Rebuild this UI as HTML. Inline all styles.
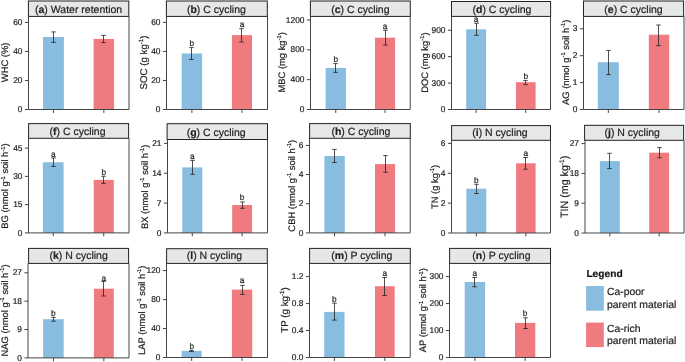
<!DOCTYPE html>
<html><head><meta charset="utf-8"><style>
html,body{margin:0;padding:0;background:#fff;}
svg{display:block;will-change:transform;}
text{font-family:"Liberation Sans", sans-serif;stroke:#222;stroke-width:0.2px;text-rendering:geometricPrecision;}
</style></head><body>
<svg width="685" height="362" viewBox="0 0 685 362">
<rect width="685" height="362" fill="#fff"/>
<rect x="43.00" y="37.00" width="20.90" height="72.50" fill="#88bde0"/>
<rect x="93.60" y="38.90" width="20.50" height="70.60" fill="#f07b7f"/>
<rect x="28.40" y="1.00" width="100.40" height="15.40" fill="#e5e8e6" stroke="#222" stroke-width="1"/>
<text x="78.60" y="12.60" font-size="10.5" text-anchor="middle" fill="#222">(<tspan font-weight="bold">a</tspan>) Water retention</text>
<path d="M28.50 16.40V109.50H129.00V16.40" fill="none" stroke="#444" stroke-width="1"/>
<path d="M24.90 22.40H28.50" stroke="#444" stroke-width="1"/>
<text x="22.50" y="25.00" font-size="8.4" text-anchor="end" fill="#222">60</text>
<path d="M24.90 51.43H28.50" stroke="#444" stroke-width="1"/>
<text x="22.50" y="54.03" font-size="8.4" text-anchor="end" fill="#222">40</text>
<path d="M24.90 80.47H28.50" stroke="#444" stroke-width="1"/>
<text x="22.50" y="83.07" font-size="8.4" text-anchor="end" fill="#222">20</text>
<path d="M24.90 109.50H28.50" stroke="#444" stroke-width="1"/>
<text x="22.50" y="112.10" font-size="8.4" text-anchor="end" fill="#222">0</text>
<path d="M53.45 109.50V112.90" stroke="#444" stroke-width="1"/>
<path d="M103.85 109.50V112.90" stroke="#444" stroke-width="1"/>
<path d="M53.50 31.90V42.30M51.20 31.90H55.80M51.20 42.30H55.80" stroke="#222" stroke-width="0.8" fill="none"/>
<path d="M103.50 35.40V42.60M101.20 35.40H105.80M101.20 42.60H105.80" stroke="#222" stroke-width="0.8" fill="none"/>
<text transform="translate(8.00,62.35) rotate(-90)" x="0" y="0" font-size="9.4" text-anchor="middle" fill="#222"><tspan>WHC (%)</tspan></text>
<rect x="181.70" y="53.50" width="20.40" height="56.00" fill="#88bde0"/>
<rect x="231.90" y="35.10" width="20.10" height="74.40" fill="#f07b7f"/>
<rect x="166.40" y="1.00" width="100.90" height="15.40" fill="#e5e8e6" stroke="#222" stroke-width="1"/>
<text x="216.35" y="12.60" font-size="10.5" text-anchor="middle" fill="#222">(<tspan font-weight="bold">b</tspan>) C cycling</text>
<path d="M166.50 16.40V109.50H267.50V16.40" fill="none" stroke="#444" stroke-width="1"/>
<path d="M162.90 22.40H166.50" stroke="#444" stroke-width="1"/>
<text x="160.50" y="25.00" font-size="8.4" text-anchor="end" fill="#222">60</text>
<path d="M162.90 51.43H166.50" stroke="#444" stroke-width="1"/>
<text x="160.50" y="54.03" font-size="8.4" text-anchor="end" fill="#222">40</text>
<path d="M162.90 80.47H166.50" stroke="#444" stroke-width="1"/>
<text x="160.50" y="83.07" font-size="8.4" text-anchor="end" fill="#222">20</text>
<path d="M162.90 109.50H166.50" stroke="#444" stroke-width="1"/>
<text x="160.50" y="112.10" font-size="8.4" text-anchor="end" fill="#222">0</text>
<path d="M191.90 109.50V112.90" stroke="#444" stroke-width="1"/>
<path d="M241.95 109.50V112.90" stroke="#444" stroke-width="1"/>
<path d="M191.50 47.60V59.50M189.20 47.60H193.80M189.20 59.50H193.80" stroke="#222" stroke-width="0.8" fill="none"/>
<path d="M241.50 28.70V42.00M239.20 28.70H243.80M239.20 42.00H243.80" stroke="#222" stroke-width="0.8" fill="none"/>
<text x="191.90" y="45.60" font-size="8.3" text-anchor="middle" fill="#222">b</text>
<text x="241.95" y="26.80" font-size="8.3" text-anchor="middle" fill="#222">a</text>
<text transform="translate(146.80,62.50) rotate(-90)" x="0" y="0" font-size="9.7" text-anchor="middle" fill="#222"><tspan>SOC (g kg</tspan><tspan font-size="6.01" dy="-3.8">-1</tspan><tspan dy="3.8">)</tspan></text>
<rect x="325.60" y="67.90" width="20.30" height="41.60" fill="#88bde0"/>
<rect x="375.00" y="37.70" width="20.10" height="71.80" fill="#f07b7f"/>
<rect x="310.40" y="1.00" width="99.90" height="15.40" fill="#e5e8e6" stroke="#222" stroke-width="1"/>
<text x="360.35" y="12.60" font-size="10.5" text-anchor="middle" fill="#222">(<tspan font-weight="bold">c</tspan>) C cycling</text>
<path d="M310.50 16.40V109.50H410.20V16.40" fill="none" stroke="#444" stroke-width="1"/>
<path d="M306.90 20.00H310.50" stroke="#444" stroke-width="1"/>
<text x="304.50" y="22.60" font-size="8.4" text-anchor="end" fill="#222">1200</text>
<path d="M306.90 49.83H310.50" stroke="#444" stroke-width="1"/>
<text x="304.50" y="52.43" font-size="8.4" text-anchor="end" fill="#222">800</text>
<path d="M306.90 79.67H310.50" stroke="#444" stroke-width="1"/>
<text x="304.50" y="82.27" font-size="8.4" text-anchor="end" fill="#222">400</text>
<path d="M306.90 109.50H310.50" stroke="#444" stroke-width="1"/>
<text x="304.50" y="112.10" font-size="8.4" text-anchor="end" fill="#222">0</text>
<path d="M335.75 109.50V112.90" stroke="#444" stroke-width="1"/>
<path d="M385.05 109.50V112.90" stroke="#444" stroke-width="1"/>
<path d="M335.50 63.60V72.40M333.20 63.60H337.80M333.20 72.40H337.80" stroke="#222" stroke-width="0.8" fill="none"/>
<path d="M385.50 30.30V45.10M383.20 30.30H387.80M383.20 45.10H387.80" stroke="#222" stroke-width="0.8" fill="none"/>
<text x="335.75" y="61.80" font-size="8.3" text-anchor="middle" fill="#222">b</text>
<text x="385.05" y="28.60" font-size="8.3" text-anchor="middle" fill="#222">a</text>
<text transform="translate(285.20,62.30) rotate(-90)" x="0" y="0" font-size="9.4" text-anchor="middle" fill="#222"><tspan>MBC (mg kg</tspan><tspan font-size="5.83" dy="-3.8">-1</tspan><tspan dy="3.8">)</tspan></text>
<rect x="466.20" y="29.30" width="19.90" height="80.20" fill="#88bde0"/>
<rect x="515.90" y="82.20" width="19.70" height="27.30" fill="#f07b7f"/>
<rect x="451.50" y="1.50" width="99.10" height="14.90" fill="#e5e8e6" stroke="#222" stroke-width="1"/>
<text x="501.95" y="12.60" font-size="10.5" text-anchor="middle" fill="#222">(<tspan font-weight="bold">d</tspan>) C cycling</text>
<path d="M451.50 16.40V109.50H550.50V16.40" fill="none" stroke="#444" stroke-width="1"/>
<path d="M447.90 30.20H451.50" stroke="#444" stroke-width="1"/>
<text x="445.50" y="32.80" font-size="8.4" text-anchor="end" fill="#222">900</text>
<path d="M447.90 56.63H451.50" stroke="#444" stroke-width="1"/>
<text x="445.50" y="59.23" font-size="8.4" text-anchor="end" fill="#222">600</text>
<path d="M447.90 83.07H451.50" stroke="#444" stroke-width="1"/>
<text x="445.50" y="85.67" font-size="8.4" text-anchor="end" fill="#222">300</text>
<path d="M447.90 109.50H451.50" stroke="#444" stroke-width="1"/>
<text x="445.50" y="112.10" font-size="8.4" text-anchor="end" fill="#222">0</text>
<path d="M476.15 109.50V112.90" stroke="#444" stroke-width="1"/>
<path d="M525.75 109.50V112.90" stroke="#444" stroke-width="1"/>
<path d="M476.50 23.30V35.30M474.20 23.30H478.80M474.20 35.30H478.80" stroke="#222" stroke-width="0.8" fill="none"/>
<path d="M525.50 80.60V84.60M523.20 80.60H527.80M523.20 84.60H527.80" stroke="#222" stroke-width="0.8" fill="none"/>
<text x="476.15" y="21.90" font-size="8.3" text-anchor="middle" fill="#222">a</text>
<text x="525.75" y="79.10" font-size="8.3" text-anchor="middle" fill="#222">b</text>
<text transform="translate(428.20,62.65) rotate(-90)" x="0" y="0" font-size="9.4" text-anchor="middle" fill="#222"><tspan>DOC (mg kg</tspan><tspan font-size="5.83" dy="-3.8">-1</tspan><tspan dy="3.8">)</tspan></text>
<rect x="597.80" y="62.20" width="21.00" height="47.30" fill="#88bde0"/>
<rect x="648.80" y="34.70" width="20.40" height="74.80" fill="#f07b7f"/>
<rect x="583.50" y="1.00" width="100.10" height="15.40" fill="#e5e8e6" stroke="#222" stroke-width="1"/>
<text x="633.55" y="12.60" font-size="10.5" text-anchor="middle" fill="#222">(<tspan font-weight="bold">e</tspan>) C cycling</text>
<path d="M583.50 16.40V109.50H684.00V16.40" fill="none" stroke="#444" stroke-width="1"/>
<path d="M579.90 28.80H583.50" stroke="#444" stroke-width="1"/>
<text x="577.50" y="31.40" font-size="8.4" text-anchor="end" fill="#222">3</text>
<path d="M579.90 55.70H583.50" stroke="#444" stroke-width="1"/>
<text x="577.50" y="58.30" font-size="8.4" text-anchor="end" fill="#222">2</text>
<path d="M579.90 82.60H583.50" stroke="#444" stroke-width="1"/>
<text x="577.50" y="85.20" font-size="8.4" text-anchor="end" fill="#222">1</text>
<path d="M579.90 109.50H583.50" stroke="#444" stroke-width="1"/>
<text x="577.50" y="112.10" font-size="8.4" text-anchor="end" fill="#222">0</text>
<path d="M608.30 109.50V112.90" stroke="#444" stroke-width="1"/>
<path d="M659.00 109.50V112.90" stroke="#444" stroke-width="1"/>
<path d="M608.50 50.40V74.60M606.20 50.40H610.80M606.20 74.60H610.80" stroke="#222" stroke-width="0.8" fill="none"/>
<path d="M658.50 25.00V45.70M656.20 25.00H660.80M656.20 45.70H660.80" stroke="#222" stroke-width="0.8" fill="none"/>
<text transform="translate(568.70,62.25) rotate(-90)" x="0" y="0" font-size="9.4" text-anchor="middle" fill="#222"><tspan>AG (nmol g</tspan><tspan font-size="5.83" dy="-3.8">-1</tspan><tspan dy="3.8"> soil h</tspan><tspan font-size="5.83" dy="-3.8">-1</tspan><tspan dy="3.8">)</tspan></text>
<rect x="42.90" y="162.30" width="20.70" height="70.60" fill="#88bde0"/>
<rect x="93.70" y="179.90" width="20.10" height="53.00" fill="#f07b7f"/>
<rect x="28.60" y="123.60" width="100.00" height="14.70" fill="#e5e8e6" stroke="#222" stroke-width="1"/>
<text x="77.50" y="135.05" font-size="10.5" text-anchor="middle" fill="#222">(<tspan font-weight="bold">f</tspan>) C cycling</text>
<path d="M28.50 138.30V232.90H129.00V138.30" fill="none" stroke="#444" stroke-width="1"/>
<path d="M24.90 148.10H28.50" stroke="#444" stroke-width="1"/>
<text x="22.50" y="150.70" font-size="8.4" text-anchor="end" fill="#222">45</text>
<path d="M24.90 176.37H28.50" stroke="#444" stroke-width="1"/>
<text x="22.50" y="178.97" font-size="8.4" text-anchor="end" fill="#222">30</text>
<path d="M24.90 204.63H28.50" stroke="#444" stroke-width="1"/>
<text x="22.50" y="207.23" font-size="8.4" text-anchor="end" fill="#222">15</text>
<path d="M24.90 232.90H28.50" stroke="#444" stroke-width="1"/>
<text x="22.50" y="235.50" font-size="8.4" text-anchor="end" fill="#222">0</text>
<path d="M53.25 232.90V236.30" stroke="#444" stroke-width="1"/>
<path d="M103.75 232.90V236.30" stroke="#444" stroke-width="1"/>
<path d="M53.50 158.00V166.40M51.20 158.00H55.80M51.20 166.40H55.80" stroke="#222" stroke-width="0.8" fill="none"/>
<path d="M103.50 176.30V183.40M101.20 176.30H105.80M101.20 183.40H105.80" stroke="#222" stroke-width="0.8" fill="none"/>
<text x="53.25" y="156.60" font-size="8.3" text-anchor="middle" fill="#222">a</text>
<text x="103.75" y="174.90" font-size="8.3" text-anchor="middle" fill="#222">b</text>
<text transform="translate(8.40,186.05) rotate(-90)" x="0" y="0" font-size="9.4" text-anchor="middle" fill="#222"><tspan>BG (nmol g</tspan><tspan font-size="5.83" dy="-3.8">-1</tspan><tspan dy="3.8"> soil h</tspan><tspan font-size="5.83" dy="-3.8">-1</tspan><tspan dy="3.8">)</tspan></text>
<rect x="182.30" y="167.40" width="20.00" height="65.50" fill="#88bde0"/>
<rect x="232.20" y="205.00" width="19.90" height="27.90" fill="#f07b7f"/>
<rect x="167.10" y="123.70" width="100.40" height="15.80" fill="#e5e8e6" stroke="#222" stroke-width="1"/>
<text x="216.10" y="136.20" font-size="10.5" text-anchor="middle" fill="#222">(<tspan font-weight="bold">g</tspan>) C cycling</text>
<path d="M167.50 139.50V232.90H267.50V139.50" fill="none" stroke="#444" stroke-width="1"/>
<path d="M163.90 143.40H167.50" stroke="#444" stroke-width="1"/>
<text x="161.50" y="146.00" font-size="8.4" text-anchor="end" fill="#222">21</text>
<path d="M163.90 173.23H167.50" stroke="#444" stroke-width="1"/>
<text x="161.50" y="175.83" font-size="8.4" text-anchor="end" fill="#222">14</text>
<path d="M163.90 203.07H167.50" stroke="#444" stroke-width="1"/>
<text x="161.50" y="205.67" font-size="8.4" text-anchor="end" fill="#222">7</text>
<path d="M163.90 232.90H167.50" stroke="#444" stroke-width="1"/>
<text x="161.50" y="235.50" font-size="8.4" text-anchor="end" fill="#222">0</text>
<path d="M192.30 232.90V236.30" stroke="#444" stroke-width="1"/>
<path d="M242.15 232.90V236.30" stroke="#444" stroke-width="1"/>
<path d="M192.50 160.40V174.30M190.20 160.40H194.80M190.20 174.30H194.80" stroke="#222" stroke-width="0.8" fill="none"/>
<path d="M242.50 202.00V208.30M240.20 202.00H244.80M240.20 208.30H244.80" stroke="#222" stroke-width="0.8" fill="none"/>
<text x="192.30" y="158.80" font-size="8.3" text-anchor="middle" fill="#222">a</text>
<text x="242.15" y="199.90" font-size="8.3" text-anchor="middle" fill="#222">b</text>
<text transform="translate(147.60,186.80) rotate(-90)" x="0" y="0" font-size="9.4" text-anchor="middle" fill="#222"><tspan>BX (nmol g</tspan><tspan font-size="5.83" dy="-3.8">-1</tspan><tspan dy="3.8"> soil h</tspan><tspan font-size="5.83" dy="-3.8">-1</tspan><tspan dy="3.8">)</tspan></text>
<rect x="324.40" y="156.00" width="20.40" height="76.90" fill="#88bde0"/>
<rect x="375.00" y="164.10" width="20.10" height="68.80" fill="#f07b7f"/>
<rect x="309.60" y="123.60" width="100.70" height="14.70" fill="#e5e8e6" stroke="#222" stroke-width="1"/>
<text x="360.85" y="135.40" font-size="10.5" text-anchor="middle" fill="#222">(<tspan font-weight="bold">h</tspan>) C cycling</text>
<path d="M309.50 138.30V232.90H410.20V138.30" fill="none" stroke="#444" stroke-width="1"/>
<path d="M305.90 145.40H309.50" stroke="#444" stroke-width="1"/>
<text x="303.50" y="148.00" font-size="8.4" text-anchor="end" fill="#222">6</text>
<path d="M305.90 174.57H309.50" stroke="#444" stroke-width="1"/>
<text x="303.50" y="177.17" font-size="8.4" text-anchor="end" fill="#222">4</text>
<path d="M305.90 203.73H309.50" stroke="#444" stroke-width="1"/>
<text x="303.50" y="206.33" font-size="8.4" text-anchor="end" fill="#222">2</text>
<path d="M305.90 232.90H309.50" stroke="#444" stroke-width="1"/>
<text x="303.50" y="235.50" font-size="8.4" text-anchor="end" fill="#222">0</text>
<path d="M334.60 232.90V236.30" stroke="#444" stroke-width="1"/>
<path d="M385.05 232.90V236.30" stroke="#444" stroke-width="1"/>
<path d="M334.50 149.40V162.50M332.20 149.40H336.80M332.20 162.50H336.80" stroke="#222" stroke-width="0.8" fill="none"/>
<path d="M385.50 155.60V172.30M383.20 155.60H387.80M383.20 172.30H387.80" stroke="#222" stroke-width="0.8" fill="none"/>
<text transform="translate(295.00,185.80) rotate(-90)" x="0" y="0" font-size="9.4" text-anchor="middle" fill="#222"><tspan>CBH (nmol g</tspan><tspan font-size="5.83" dy="-3.8">-1</tspan><tspan dy="3.8"> soil h</tspan><tspan font-size="5.83" dy="-3.8">-1</tspan><tspan dy="3.8">)</tspan></text>
<rect x="466.40" y="188.70" width="19.90" height="44.30" fill="#88bde0"/>
<rect x="516.10" y="163.30" width="19.50" height="69.70" fill="#f07b7f"/>
<rect x="451.60" y="125.60" width="98.90" height="14.70" fill="#e5e8e6" stroke="#222" stroke-width="1"/>
<text x="499.95" y="135.80" font-size="10.5" text-anchor="middle" fill="#222">(<tspan font-weight="bold">i</tspan>) N cycling</text>
<path d="M451.50 140.30V233.00H550.50V140.30" fill="none" stroke="#444" stroke-width="1"/>
<path d="M447.90 143.40H451.50" stroke="#444" stroke-width="1"/>
<text x="445.50" y="146.00" font-size="8.4" text-anchor="end" fill="#222">6</text>
<path d="M447.90 173.27H451.50" stroke="#444" stroke-width="1"/>
<text x="445.50" y="175.87" font-size="8.4" text-anchor="end" fill="#222">4</text>
<path d="M447.90 203.13H451.50" stroke="#444" stroke-width="1"/>
<text x="445.50" y="205.73" font-size="8.4" text-anchor="end" fill="#222">2</text>
<path d="M447.90 233.00H451.50" stroke="#444" stroke-width="1"/>
<text x="445.50" y="235.60" font-size="8.4" text-anchor="end" fill="#222">0</text>
<path d="M476.35 233.00V236.40" stroke="#444" stroke-width="1"/>
<path d="M525.85 233.00V236.40" stroke="#444" stroke-width="1"/>
<path d="M476.50 184.30V193.50M474.20 184.30H478.80M474.20 193.50H478.80" stroke="#222" stroke-width="0.8" fill="none"/>
<path d="M525.50 157.50V169.20M523.20 157.50H527.80M523.20 169.20H527.80" stroke="#222" stroke-width="0.8" fill="none"/>
<text x="476.35" y="182.70" font-size="8.3" text-anchor="middle" fill="#222">b</text>
<text x="525.85" y="156.20" font-size="8.3" text-anchor="middle" fill="#222">a</text>
<text transform="translate(437.80,186.90) rotate(-90)" x="0" y="0" font-size="9.4" text-anchor="middle" fill="#222"><tspan>TN (g kg</tspan><tspan font-size="5.83" dy="-3.8">-1</tspan><tspan dy="3.8">)</tspan></text>
<rect x="599.90" y="161.10" width="19.90" height="71.90" fill="#88bde0"/>
<rect x="649.20" y="152.70" width="19.90" height="80.30" fill="#f07b7f"/>
<rect x="584.60" y="125.30" width="99.00" height="15.00" fill="#e5e8e6" stroke="#222" stroke-width="1"/>
<text x="632.20" y="135.80" font-size="10.5" text-anchor="middle" fill="#222">(<tspan font-weight="bold">j</tspan>) N cycling</text>
<path d="M585.00 140.30V233.00H684.00V140.30" fill="none" stroke="#444" stroke-width="1"/>
<path d="M581.40 143.60H585.00" stroke="#444" stroke-width="1"/>
<text x="579.00" y="146.20" font-size="8.4" text-anchor="end" fill="#222">27</text>
<path d="M581.40 173.40H585.00" stroke="#444" stroke-width="1"/>
<text x="579.00" y="176.00" font-size="8.4" text-anchor="end" fill="#222">18</text>
<path d="M581.40 203.20H585.00" stroke="#444" stroke-width="1"/>
<text x="579.00" y="205.80" font-size="8.4" text-anchor="end" fill="#222">9</text>
<path d="M581.40 233.00H585.00" stroke="#444" stroke-width="1"/>
<text x="579.00" y="235.60" font-size="8.4" text-anchor="end" fill="#222">0</text>
<path d="M609.85 233.00V236.40" stroke="#444" stroke-width="1"/>
<path d="M659.15 233.00V236.40" stroke="#444" stroke-width="1"/>
<path d="M609.50 153.30V168.60M607.20 153.30H611.80M607.20 168.60H611.80" stroke="#222" stroke-width="0.8" fill="none"/>
<path d="M659.50 147.60V157.80M657.20 147.60H661.80M657.20 157.80H661.80" stroke="#222" stroke-width="0.8" fill="none"/>
<text transform="translate(567.50,186.80) rotate(-90)" x="0" y="0" font-size="10.7" text-anchor="middle" fill="#222"><tspan>TIN (mg kg</tspan><tspan font-size="6.63" dy="-3.8">-1</tspan><tspan dy="3.8">)</tspan></text>
<rect x="43.10" y="319.20" width="20.60" height="38.70" fill="#88bde0"/>
<rect x="93.90" y="288.70" width="19.90" height="69.20" fill="#f07b7f"/>
<rect x="28.60" y="248.40" width="100.00" height="15.00" fill="#e5e8e6" stroke="#222" stroke-width="1"/>
<text x="78.60" y="259.00" font-size="10.5" text-anchor="middle" fill="#222">(<tspan font-weight="bold">k</tspan>) N cycling</text>
<path d="M28.00 263.40V357.90H129.00V263.40" fill="none" stroke="#444" stroke-width="1"/>
<path d="M24.40 272.80H28.00" stroke="#444" stroke-width="1"/>
<text x="22.00" y="275.40" font-size="8.4" text-anchor="end" fill="#222">27</text>
<path d="M24.40 301.17H28.00" stroke="#444" stroke-width="1"/>
<text x="22.00" y="303.77" font-size="8.4" text-anchor="end" fill="#222">18</text>
<path d="M24.40 329.53H28.00" stroke="#444" stroke-width="1"/>
<text x="22.00" y="332.13" font-size="8.4" text-anchor="end" fill="#222">9</text>
<path d="M24.40 357.90H28.00" stroke="#444" stroke-width="1"/>
<text x="22.00" y="360.50" font-size="8.4" text-anchor="end" fill="#222">0</text>
<path d="M53.40 357.90V361.30" stroke="#444" stroke-width="1"/>
<path d="M103.85 357.90V361.30" stroke="#444" stroke-width="1"/>
<path d="M53.50 317.40V321.20M51.20 317.40H55.80M51.20 321.20H55.80" stroke="#222" stroke-width="0.8" fill="none"/>
<path d="M103.50 281.40V296.00M101.20 281.40H105.80M101.20 296.00H105.80" stroke="#222" stroke-width="0.8" fill="none"/>
<text x="53.40" y="316.20" font-size="8.3" text-anchor="middle" fill="#222">b</text>
<text x="103.85" y="281.20" font-size="8.3" text-anchor="middle" fill="#222">a</text>
<text transform="translate(8.10,310.45) rotate(-90)" x="0" y="0" font-size="9.4" text-anchor="middle" fill="#222"><tspan>NAG (nmol g</tspan><tspan font-size="5.83" dy="-3.8">-1</tspan><tspan dy="3.8"> soil h</tspan><tspan font-size="5.83" dy="-3.8">-1</tspan><tspan dy="3.8">)</tspan></text>
<rect x="181.70" y="350.80" width="20.00" height="6.70" fill="#88bde0"/>
<rect x="231.90" y="289.60" width="20.30" height="67.90" fill="#f07b7f"/>
<rect x="166.60" y="248.70" width="100.70" height="14.70" fill="#e5e8e6" stroke="#222" stroke-width="1"/>
<text x="214.45" y="258.70" font-size="10.5" text-anchor="middle" fill="#222">(<tspan font-weight="bold">l</tspan>) N cycling</text>
<path d="M166.50 263.40V357.50H267.50V263.40" fill="none" stroke="#444" stroke-width="1"/>
<path d="M162.90 270.60H166.50" stroke="#444" stroke-width="1"/>
<text x="160.50" y="273.20" font-size="8.4" text-anchor="end" fill="#222">120</text>
<path d="M162.90 299.57H166.50" stroke="#444" stroke-width="1"/>
<text x="160.50" y="302.17" font-size="8.4" text-anchor="end" fill="#222">80</text>
<path d="M162.90 328.53H166.50" stroke="#444" stroke-width="1"/>
<text x="160.50" y="331.13" font-size="8.4" text-anchor="end" fill="#222">40</text>
<path d="M162.90 357.50H166.50" stroke="#444" stroke-width="1"/>
<text x="160.50" y="360.10" font-size="8.4" text-anchor="end" fill="#222">0</text>
<path d="M191.70 357.50V360.90" stroke="#444" stroke-width="1"/>
<path d="M242.05 357.50V360.90" stroke="#444" stroke-width="1"/>
<path d="M191.50 350.30V351.50M189.20 350.30H193.80M189.20 351.50H193.80" stroke="#222" stroke-width="0.8" fill="none"/>
<path d="M242.50 285.40V294.40M240.20 285.40H244.80M240.20 294.40H244.80" stroke="#222" stroke-width="0.8" fill="none"/>
<text x="191.70" y="348.70" font-size="8.3" text-anchor="middle" fill="#222">b</text>
<text x="242.05" y="282.90" font-size="8.3" text-anchor="middle" fill="#222">a</text>
<text transform="translate(145.00,310.25) rotate(-90)" x="0" y="0" font-size="9.4" text-anchor="middle" fill="#222"><tspan>LAP (nmol g</tspan><tspan font-size="5.83" dy="-3.8">-1</tspan><tspan dy="3.8"> soil h</tspan><tspan font-size="5.83" dy="-3.8">-1</tspan><tspan dy="3.8">)</tspan></text>
<rect x="324.20" y="311.90" width="20.30" height="45.60" fill="#88bde0"/>
<rect x="375.00" y="286.20" width="19.70" height="71.30" fill="#f07b7f"/>
<rect x="309.60" y="248.40" width="100.70" height="15.00" fill="#e5e8e6" stroke="#222" stroke-width="1"/>
<text x="361.85" y="258.70" font-size="10.5" text-anchor="middle" fill="#222">(<tspan font-weight="bold">m</tspan>) P cycling</text>
<path d="M309.50 263.40V357.50H410.20V263.40" fill="none" stroke="#444" stroke-width="1"/>
<path d="M305.90 276.60H309.50" stroke="#444" stroke-width="1"/>
<text x="303.50" y="279.20" font-size="8.4" text-anchor="end" fill="#222">1.2</text>
<path d="M305.90 303.57H309.50" stroke="#444" stroke-width="1"/>
<text x="303.50" y="306.17" font-size="8.4" text-anchor="end" fill="#222">0.8</text>
<path d="M305.90 330.53H309.50" stroke="#444" stroke-width="1"/>
<text x="303.50" y="333.13" font-size="8.4" text-anchor="end" fill="#222">0.4</text>
<path d="M305.90 357.50H309.50" stroke="#444" stroke-width="1"/>
<text x="303.50" y="360.10" font-size="8.4" text-anchor="end" fill="#222">0.0</text>
<path d="M334.35 357.50V360.90" stroke="#444" stroke-width="1"/>
<path d="M384.85 357.50V360.90" stroke="#444" stroke-width="1"/>
<path d="M334.50 303.20V320.10M332.20 303.20H336.80M332.20 320.10H336.80" stroke="#222" stroke-width="0.8" fill="none"/>
<path d="M384.50 277.50V295.50M382.20 277.50H386.80M382.20 295.50H386.80" stroke="#222" stroke-width="0.8" fill="none"/>
<text x="334.35" y="301.50" font-size="8.3" text-anchor="middle" fill="#222">b</text>
<text x="384.85" y="275.90" font-size="8.3" text-anchor="middle" fill="#222">a</text>
<text transform="translate(287.70,310.05) rotate(-90)" x="0" y="0" font-size="9.8" text-anchor="middle" fill="#222"><tspan>TP (g kg</tspan><tspan font-size="6.08" dy="-3.8">-1</tspan><tspan dy="3.8">)</tspan></text>
<rect x="464.70" y="282.00" width="20.40" height="75.50" fill="#88bde0"/>
<rect x="515.00" y="322.90" width="20.30" height="34.60" fill="#f07b7f"/>
<rect x="449.60" y="248.40" width="100.90" height="15.00" fill="#e5e8e6" stroke="#222" stroke-width="1"/>
<text x="501.45" y="258.60" font-size="10.5" text-anchor="middle" fill="#222">(<tspan font-weight="bold">n</tspan>) P cycling</text>
<path d="M449.50 263.40V357.50H550.50V263.40" fill="none" stroke="#444" stroke-width="1"/>
<path d="M445.90 276.60H449.50" stroke="#444" stroke-width="1"/>
<text x="443.50" y="279.20" font-size="8.4" text-anchor="end" fill="#222">300</text>
<path d="M445.90 303.57H449.50" stroke="#444" stroke-width="1"/>
<text x="443.50" y="306.17" font-size="8.4" text-anchor="end" fill="#222">200</text>
<path d="M445.90 330.53H449.50" stroke="#444" stroke-width="1"/>
<text x="443.50" y="333.13" font-size="8.4" text-anchor="end" fill="#222">100</text>
<path d="M445.90 357.50H449.50" stroke="#444" stroke-width="1"/>
<text x="443.50" y="360.10" font-size="8.4" text-anchor="end" fill="#222">0</text>
<path d="M474.90 357.50V360.90" stroke="#444" stroke-width="1"/>
<path d="M525.15 357.50V360.90" stroke="#444" stroke-width="1"/>
<path d="M474.50 277.50V286.80M472.20 277.50H476.80M472.20 286.80H476.80" stroke="#222" stroke-width="0.8" fill="none"/>
<path d="M525.50 317.80V328.50M523.20 317.80H527.80M523.20 328.50H527.80" stroke="#222" stroke-width="0.8" fill="none"/>
<text x="474.90" y="275.90" font-size="8.3" text-anchor="middle" fill="#222">a</text>
<text x="525.15" y="316.20" font-size="8.3" text-anchor="middle" fill="#222">b</text>
<text transform="translate(426.30,310.15) rotate(-90)" x="0" y="0" font-size="9.4" text-anchor="middle" fill="#222"><tspan>AP (nmol g</tspan><tspan font-size="5.83" dy="-3.8">-1</tspan><tspan dy="3.8"> soil h</tspan><tspan font-size="5.83" dy="-3.8">-1</tspan><tspan dy="3.8">)</tspan></text>
<text x="586.4" y="277.0" font-size="10.2" font-weight="bold" fill="#111">Legend</text>
<rect x="586.1" y="286.0" width="17.7" height="24.7" fill="#88bde0"/>
<rect x="586.1" y="322.6" width="17.7" height="24.5" fill="#f07b7f"/>
<text x="607.0" y="295.3" font-size="10.4" fill="#222">Ca-poor</text>
<text x="607.0" y="307.6" font-size="10.4" fill="#222">parent material</text>
<text x="607.0" y="331.9" font-size="10.4" fill="#222">Ca-rich</text>
<text x="607.0" y="344.4" font-size="10.4" fill="#222">parent material</text>
</svg>
</body></html>
